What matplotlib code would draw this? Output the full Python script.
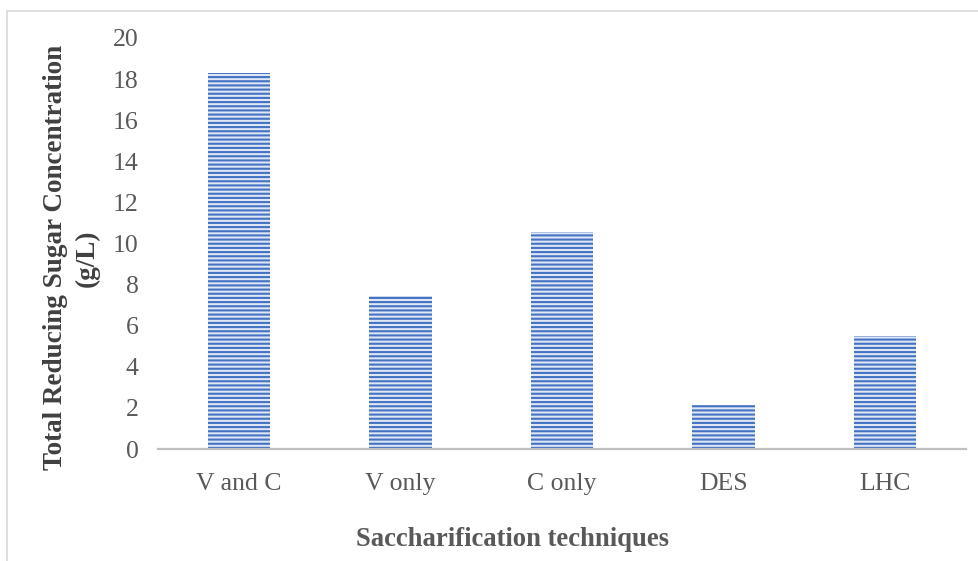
import matplotlib
matplotlib.use("Agg")
import matplotlib.pyplot as plt
from matplotlib.patches import Rectangle

plt.rcParams['font.family'] = ['Liberation Serif', 'DejaVu Serif']
plt.rcParams['hatch.linewidth'] = 1.5

categories = ["V and C", "V only", "C only", "DES", "LHC"]
sugar = [18.3, 7.45, 10.56, 2.15, 5.5]
yticks = [0, 2, 4, 6, 8, 10, 12, 14, 16, 18, 20]

fig = plt.figure(figsize=(9.79, 5.61), dpi=100)
ax = fig.add_axes([0.1614, 0.1996, 0.8253, 0.7327])

x = range(len(categories))
ax.bar(x, sugar, width=0.385, color='#dfe6f4', edgecolor='#4472C4',
       linewidth=0, hatch='----', zorder=2)

ax.set_xlim(-0.5, 4.5)
ax.set_ylim(0, 20)
ax.set_yticks(yticks)
ax.set_xticks(list(x))
ax.set_xticklabels(categories)
ax.tick_params(axis='both', length=0, labelsize=18.5, colors='#595959')
ax.tick_params(axis='x', pad=17)
ax.tick_params(axis='y', pad=14)

for s in ['top', 'right', 'left']:
    ax.spines[s].set_visible(False)
ax.spines['bottom'].set_color('#BFBFBF')
ax.spines['bottom'].set_linewidth(1.6)

ax.set_ylabel('Total Reducing Sugar Concentration\n(g/L)', fontsize=19.5,
              fontweight='bold', color='#404040', linespacing=1.33,
              multialignment='center')
ax.yaxis.set_label_coords(-0.072, 0.465)
ax.set_xlabel('Saccharification techniques', fontsize=19.2,
              fontweight='bold', color='#595959')
ax.xaxis.set_label_coords(0.439, -0.19)

# chart area border
fig.patches.append(Rectangle((7 / 979, -0.1), 1.2, 1 - 10.5 / 561 + 0.1,
                             transform=fig.transFigure, fill=False,
                             edgecolor='#D9D9D9', linewidth=1.2))

fig.savefig('out.png', dpi=100)
